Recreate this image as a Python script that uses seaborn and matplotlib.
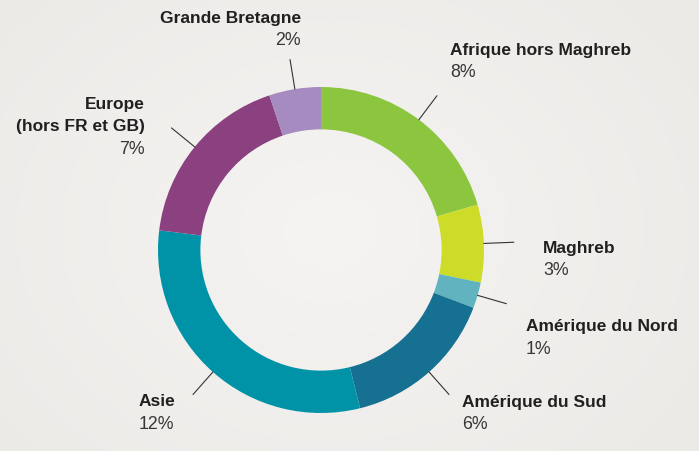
import numpy as np
import matplotlib
matplotlib.use("Agg")
from matplotlib import pyplot as plt
import seaborn as sns

# Data
regions = ["Afrique hors Maghreb", "Maghreb", "Amérique du Nord", "Amérique du Sud",
           "Asie", "Europe\n(hors FR et GB)", "Grande Bretagne"]
shares = [8, 3, 1, 6, 12, 7, 2]
colors = ["#8cc63f", "#cddc29", "#62b3c0", "#167091", "#0093a8", "#8b4180", "#a68bc1"]

# Label layout (image pixels: x, centre y of first line, alignment)
label_pos = [(450, 50, "left"), (543, 248, "left"), (526, 327, "left"), (462, 402, "left"),
             (139, 402, "left"), (145, 104, "right"), (301, 18, "right")]

W, H = 699, 451
sns.set_theme(style="white")
plt.rcParams["font.family"] = ["Liberation Sans", "DejaVu Sans"]

fig = plt.figure(figsize=(W / 100, H / 100), dpi=100)
ax = fig.add_axes([0, 0, 1, 1])

# Soft background gradient
yy, xx = np.mgrid[0:H, 0:W]
d = np.sqrt(((xx - 330) / 420) ** 2 + ((yy - 230) / 330) ** 2)
d = np.clip(d, 0, 1)
c0 = np.array([0.962, 0.957, 0.950])
c1 = np.array([0.925, 0.920, 0.908])
bg = c0[None, None, :] * (1 - d[..., None]) + c1[None, None, :] * d[..., None]
ax.imshow(bg, extent=[0, W, 0, H], zorder=0, aspect="auto")

cx, cy, R = 321, H - 250, 163
wedges, _ = ax.pie(shares, colors=colors, startangle=90, counterclock=False,
                   radius=R, center=(cx, cy), frame=True,
                   wedgeprops=dict(width=R * 0.26, edgecolor="none", linewidth=0))
for w in wedges:
    w.set_zorder(2)

step = 22.5
for w, name, share, (tx, ty, ha) in zip(wedges, regions, shares, label_pos):
    # radial leader line at the wedge's mid angle
    mid = np.deg2rad((w.theta1 + w.theta2) / 2)
    ax.plot([cx + R * np.cos(mid), cx + (R + 30) * np.cos(mid)],
            [cy + R * np.sin(mid), cy + (R + 30) * np.sin(mid)],
            color="#333333", lw=0.8, zorder=3)
    lines = name.split("\n")
    for i, line in enumerate(lines):
        ax.text(tx, H - (ty + step * i), line, ha=ha, va="center", fontsize=12.5,
                fontweight="bold", color="#231f20", zorder=4)
    ax.text(tx, H - (ty + step * len(lines)), f"{share}%", ha=ha, va="center",
            fontsize=12.8, color="#3a3637", zorder=4)

ax.set_xlim(0, W)
ax.set_ylim(0, H)
ax.set_aspect("equal")
ax.axis("off")

plt.savefig("out.png", dpi=100)
